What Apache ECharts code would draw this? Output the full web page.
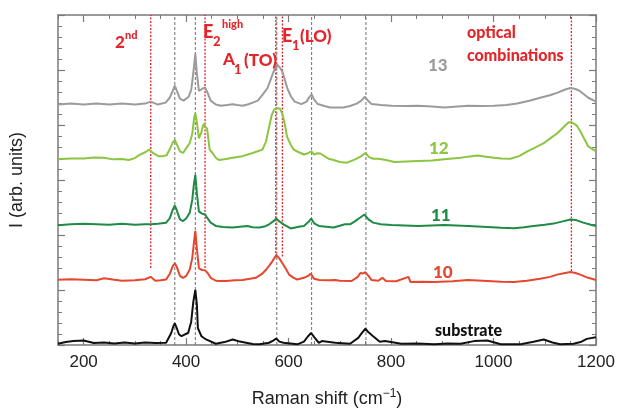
<!DOCTYPE html>
<html><head><meta charset="utf-8">
<script src="https://cdn.jsdelivr.net/npm/echarts@6/dist/echarts.min.js"></script>
<style>html,body{margin:0;padding:0;background:#fff}#c{width:618px;height:413px}</style>
</head><body><div id="c"></div>
<script>
// Raman spectra: [shift (cm-1), intensity (arb. units, offset stacked)]
const spec13 = [[150,247],[175,248],[200,247],[225,248],[250,247],[275,248],[300,247],[320,248],[331,250],[345,247],[360,249],[368,254],[374,261],[378,266.5],[382,261],[388,253],[395,251],[405,255],[410,262],[414,279],[418,299],[421,279],[425,261],[431,263],[437,264.7],[442,259],[448,251],[458,247],[468,245.7],[480,246.5],[491,247.3],[500,246.5],[510,245.7],[520,247],[530,249],[540,251],[549,257],[559,264],[568,277],[574,285],[578,288],[583,285],[588,280.7],[593,272],[598,263],[605,255],[612,250],[625,247.5],[635,250],[641,255],[645,257.5],[650,252],[657,247.5],[670,245.5],[681,244],[695,244],[707,244],[720,245.5],[733,248],[742,251],[749,255],[755,251],[762,247.5],[780,246.5],[801,245.7],[830,245.5],[853,245.7],[880,245],[904,244],[930,245],[950,245.7],[975,245.5],[1001,245.7],[1025,246.5],[1046,248],[1070,251],[1091,254],[1110,256.5],[1124,259],[1140,262.5],[1150,264],[1160,263],[1169,260.7],[1185,254],[1200,250]];
const spec12 = [[150,190.7],[175,191.5],[200,191.7],[220,192.5],[239,192.3],[258,190.7],[275,191],[288,190],[300,192],[307,194.7],[320,198],[328,200.7],[336,197],[346,194],[355,194],[362,195],[368,201],[374,208],[378,210.7],[382,206],[388,199],[394,197.3],[400,202],[407,207.3],[412,217],[416,234],[418,238],[421,229],[425,212.3],[430,219],[434,227],[437,229],[441,222],[446,200.7],[452,197],[458,192.3],[465,190],[478,191],[491,192.3],[510,194],[530,197.3],[549,200.7],[556,209],[562,224],[567,236],[572,242],[578,243.3],[583,243],[588,237.3],[593,226],[597,214],[604,206],[610,200.7],[620,198],[630,195.7],[638,197],[644,199],[650,195.7],[656,197],[662,196.7],[670,194],[678,191.3],[688,190],[700,188],[714,187.3],[730,190.7],[742,194],[750,197.3],[757,193],[765,191.3],[775,191.3],[790,190],[807,188],[830,188.5],[853,189],[880,189.5],[904,190.7],[920,191.5],[936,192.3],[950,193.5],[969,194.7],[985,193.5],[1001,192.3],[1015,191.5],[1033,191.3],[1050,194],[1066,199],[1082,203],[1098,207.3],[1110,212],[1124,217.3],[1135,223],[1146,228.5],[1152,229],[1162,225.7],[1170,219],[1175,214],[1185,204],[1200,199]];
const spec11 = [[150,123],[175,124],[200,124.5],[225,124],[250,123.5],[275,124.5],[300,123.5],[320,124],[331,124],[345,124.5],[361,125.7],[368,130],[374,139],[378,143.3],[382,138],[388,129],[394,127.3],[400,130],[407,135.7],[412,149],[415,164],[418,174.7],[421,156],[425,137.3],[431,135],[437,134],[442,130],[448,125.7],[458,122.3],[472,121.3],[491,120.7],[505,121.5],[520,122.3],[530,121],[543,120.7],[555,122],[562,124],[570,127],[576,129.7],[582,127],[590,124],[604,119.7],[620,121.5],[630,122.3],[640,127],[644,130],[650,125],[659,122.3],[688,120.7],[710,124],[720,124],[730,127.3],[740,131],[748,134],[756,129],[765,125.7],[780,124],[801,123.3],[853,122.3],[904,123.3],[950,122.3],[988,121.3],[1015,120.5],[1040,120],[1060,121],[1078,122.3],[1100,123.5],[1117,124.7],[1135,127],[1150,129],[1160,128.5],[1175,125.7],[1190,123.5],[1200,122.3]];
const spec10 = [[150,67],[175,67.5],[200,67],[225,66.5],[240,68.5],[260,67],[275,66],[300,66.5],[320,67.5],[331,70],[340,66],[350,66.5],[361,67.3],[368,73],[374,81],[378,84],[382,80],[388,71],[394,69],[400,71],[407,77.3],[412,89],[415,104],[418,117.3],[421,99],[425,79],[431,77],[437,76.7],[442,74],[448,69],[458,66],[465,65.7],[478,65.7],[495,66.5],[510,66.7],[525,68],[536,69],[548,73],[556,77.3],[563,82],[568,85.7],[576,92.3],[582,89],[588,84],[595,78],[601,72.3],[610,69],[617,67.3],[630,69],[638,71],[643,73.3],[650,68],[660,66.7],[680,66.5],[691,66.7],[700,66],[723,65.7],[735,70],[740,74],[745,73.5],[750,74.7],[756,71],[762,66.7],[775,66],[783,69],[790,65.7],[810,65.5],[834,70],[838,64.7],[860,65],[885,64.7],[920,65.5],[950,66.7],[988,65.7],[1015,65],[1040,64.7],[1065,66],[1091,68],[1110,70],[1124,72.3],[1140,74],[1150,75],[1160,74],[1169,72.3],[1185,69],[1200,66.7]];
const specSub = [[150,1.3],[165,3],[180,4],[200,4.7],[220,2],[240,2.5],[260,1.5],[280,2.5],[300,1.5],[320,2.5],[340,2],[361,2.3],[371,12.3],[375,19],[378,22.3],[382,17],[386,11],[391,9],[398,11],[404,12.3],[410,24],[414,44],[418,56.7],[421,42],[423,17.3],[430,9],[439,5.7],[458,1.3],[475,3],[491,5.7],[505,3.5],[517,2.3],[530,1],[543,0.7],[562,2.3],[570,4.5],[576,6.7],[582,3.5],[590,2.3],[617,0.7],[630,3.5],[638,9],[644,12.3],[650,8],[659,2.3],[665,4],[691,2.3],[720,1.3],[736,7.3],[744,13],[750,16.7],[756,13],[765,9],[778,3.3],[788,4],[820,1.3],[850,1.5],[885,0.7],[910,1.5],[936,1.3],[962,4],[988,4.7],[1014,0.7],[1053,0.7],[1078,3.3],[1098,5.7],[1115,2.5],[1130,0.7],[1156,1.3],[1170,3],[1182,6.3],[1200,8]];

const seriesNames = ['substrate','10','11','12','13'];
const seriesData = [specSub, spec10, spec11, spec12, spec13];
const seriesColors = ['#111111','#e5462d','#1f8a45','#8cc540','#9b9b9b'];

// reference mode positions (cm-1)
const grayLines = [378, 418, 577, 645, 751];
const redLines = [331, 437, 575, 588, 1152];
const redLineBottoms = [79, 79, 91, 91, 76];

const xMin = 150, xMax = 1200, yMin = 0, yMax = 339;
const xTickLabels = [200, 400, 600, 800, 1000, 1200];

const chart = echarts.init(document.getElementById('c'));
const axisCol = '#7a7a7a';
const series = [];
grayLines.forEach(x => series.push({type:'line', silent:true, symbol:'none', z:1, xAxisIndex:0, yAxisIndex:0,
  lineStyle:{color:'#6f6f6f', width:1, type:[3,2]}, data:[[x,yMin],[x,yMax]]}));
redLines.forEach((x,i) => series.push({type:'line', silent:true, symbol:'none', z:1, xAxisIndex:0, yAxisIndex:0,
  lineStyle:{color:'#e3262b', width:1.3, type:[2,1.5]}, data:[[x,redLineBottoms[i]],[x,yMax]]}));
seriesData.forEach((d,i) => series.push({name:seriesNames[i], type:'line', symbol:'none', z:3, xAxisIndex:0, yAxisIndex:0,
  lineStyle:{color:seriesColors[i], width:2}, data:d}));

const xBase = {type:'value', min:xMin, max:xMax, splitLine:{show:false}};
const yBase = {type:'value', min:yMin, max:yMax, interval:56.5, splitLine:{show:false}, axisLabel:{show:false},
  axisLine:{show:true, lineStyle:{color:axisCol, width:1.5}},
  axisTick:{show:true, inside:true, length:7, lineStyle:{color:axisCol, width:1.2}},
  minorTick:{show:true, splitNumber:5, length:4, lineStyle:{color:axisCol, width:1}}};

const boldFont = 'Lato';
function t(text, x, y, size, color){
  return {type:'text', x:x, y:y, silent:true, z:10,
    style:{text:text, fill:color, font:'900 '+size+'px '+boldFont, textVerticalAlign:'middle', verticalAlign:'middle'}};
}
const red = '#e3262b';

chart.setOption({
  animation:false,
  grid:{left:54, right:22, top:15, bottom:59},
  xAxis:[
    Object.assign({}, xBase, {position:'bottom',
      axisLine:{show:true, lineStyle:{color:axisCol, width:1.5}},
      axisTick:{show:true, inside:true, length:7, customValues:xTickLabels, lineStyle:{color:axisCol, width:1.2}},
      axisLabel:{customValues:xTickLabels, formatter:v => String(v), fontFamily:'Liberation Sans', fontSize:17, color:'#222', margin:9},
      name:'Raman shift (cm{sup|\u22121})', nameLocation:'middle', nameGap:43,
      nameTextStyle:{fontFamily:'Liberation Sans', fontSize:18, color:'#222',
        rich:{sup:{fontFamily:'Liberation Sans', fontSize:12, color:'#222', padding:[0,0,10,0]}}}}),
    Object.assign({}, xBase, {position:'bottom', interval:50, axisLine:{show:false},
      axisTick:{show:true, inside:true, length:4, lineStyle:{color:axisCol, width:1}}, axisLabel:{show:false}}),
    Object.assign({}, xBase, {position:'top',
      axisLine:{show:true, lineStyle:{color:axisCol, width:1.5}},
      axisTick:{show:true, inside:true, length:7, customValues:xTickLabels, lineStyle:{color:axisCol, width:1.2}},
      axisLabel:{show:false}}),
    Object.assign({}, xBase, {position:'top', interval:50, axisLine:{show:false},
      axisTick:{show:true, inside:true, length:4, lineStyle:{color:axisCol, width:1}}, axisLabel:{show:false}})
  ],
  yAxis:[
    Object.assign({}, yBase, {position:'left', name:'I (arb. units)', nameLocation:'middle', nameGap:32,
      nameTextStyle:{fontFamily:'Liberation Sans', fontSize:18, color:'#222'}}),
    Object.assign({}, yBase, {position:'right'})
  ],
  series:series,
  graphic:[
    t('2', 115, 43, 17, red), t('nd', 125, 35, 11, red),
    t('E', 203, 32.5, 18, red), t('2', 213, 42, 13, red), t('high', 222, 24, 11, red),
    t('A', 223, 59.5, 17, red), t('1', 234, 70, 13, red), t('(TO)', 244, 60.5, 17, red),
    t('E', 282, 36, 18, red), t('1', 292, 46, 13, red), t('(LO)', 300, 37, 17, red),
    t('optical', 467, 33, 16, red), t('combinations', 467, 56, 16, red),
    t('13', 428, 65.5, 17, '#9b9b9b'), t('12', 429, 149, 17, '#8cc540'),
    t('11', 431, 216, 17, '#1f8a45'), t('10', 433, 272.5, 17, '#e5462d'),
    t('substrate', 435, 331, 16, '#111111')
  ]
});
</script></body></html>
